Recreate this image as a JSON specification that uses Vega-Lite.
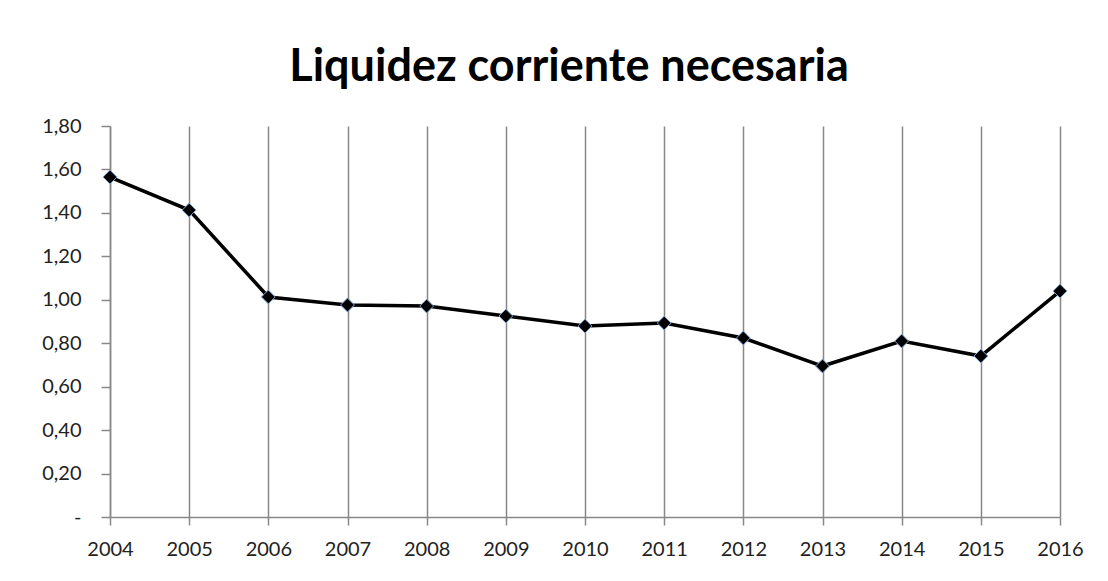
{
  "$schema": "https://vega.github.io/schema/vega-lite/v6.json",
  "width": 950,
  "height": 391,
  "autosize": {"type": "none"},
  "padding": {"left": 110, "top": 126, "right": 48, "bottom": 64},
  "background": "white",
  "title": {
    "text": "Liquidez corriente necesaria",
    "font": "Lato",
    "fontSize": 45,
    "fontWeight": "bold",
    "color": "#000000",
    "anchor": "middle",
    "offset": 26,
    "dx": -16
  },
  "data": {
    "values": [
      {"year": "2004", "value": 1.565},
      {"year": "2005", "value": 1.413},
      {"year": "2006", "value": 1.013},
      {"year": "2007", "value": 0.976},
      {"year": "2008", "value": 0.971},
      {"year": "2009", "value": 0.925},
      {"year": "2010", "value": 0.879},
      {"year": "2011", "value": 0.893},
      {"year": "2012", "value": 0.824},
      {"year": "2013", "value": 0.695},
      {"year": "2014", "value": 0.81},
      {"year": "2015", "value": 0.741},
      {"year": "2016", "value": 1.04}
    ]
  },
  "encoding": {
    "x": {
      "field": "year",
      "type": "ordinal",
      "scale": {"type": "point", "padding": 0},
      "axis": {
        "title": null,
        "labelAngle": 0,
        "labelFont": "Lato",
        "labelFontSize": 20,
        "labelColor": "#222222",
        "labelPadding": 14,
        "tickSize": 8,
        "tickColor": "#888888",
        "tickWidth": 1.5,
        "domainColor": "#888888",
        "domainWidth": 1.5,
        "grid": true,
        "gridColor": "#888888",
        "gridWidth": 1.5
      }
    },
    "y": {
      "field": "value",
      "type": "quantitative",
      "scale": {"domain": [0, 1.8], "nice": false, "zero": true},
      "axis": {
        "title": null,
        "values": [0, 0.2, 0.4, 0.6, 0.8, 1.0, 1.2, 1.4, 1.6, 1.8],
        "labelExpr": "datum.value == 0 ? '-' : replace(format(datum.value, '.2f'), '.', ',')",
        "labelFont": "Lato",
        "labelFontSize": 20,
        "labelColor": "#222222",
        "labelPadding": 20,
        "tickSize": 9,
        "tickColor": "#888888",
        "tickWidth": 1.5,
        "domainColor": "#888888",
        "domainWidth": 1.5,
        "grid": false
      }
    }
  },
  "layer": [
    {
      "mark": {"type": "line", "color": "#000000", "strokeWidth": 3.5}
    },
    {
      "mark": {
        "type": "point",
        "shape": "diamond",
        "filled": true,
        "size": 190,
        "color": "#000000",
        "stroke": "#7aa3d4",
        "strokeWidth": 1,
        "opacity": 1
      }
    }
  ],
  "config": {"view": {"stroke": null}}
}
